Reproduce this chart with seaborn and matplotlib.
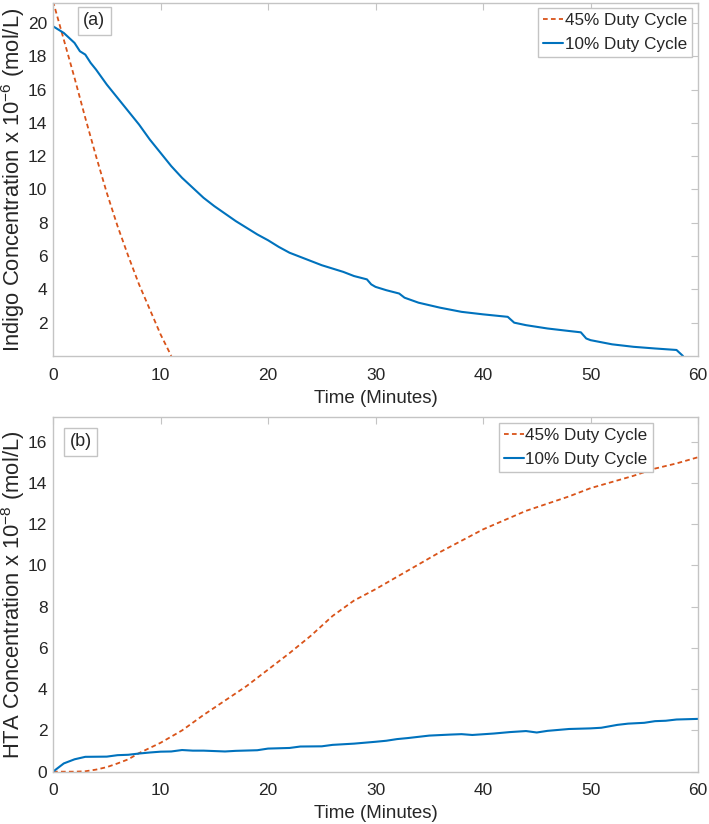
import numpy as np
import pandas as pd
import matplotlib
matplotlib.use('Agg')
import matplotlib.pyplot as plt
import seaborn as sns

# panel (a): indigo concentration (x 1e-6 mol/L)
t_a45 = [0, 1, 2, 3, 4, 5, 6, 7, 8, 9, 10, 11]
c_a45 = [21.3, 19.0, 16.7, 14.3, 12.0, 9.8, 7.8, 6.0, 4.3, 2.8, 1.3, 0.0]

t_a10 = [0, 0.5, 1, 1.5, 2, 2.5, 3, 3.5, 4, 5, 6, 7, 8, 9, 10, 11, 12, 13, 14, 15,
         16, 17, 18, 19, 20, 21, 22, 23, 24, 25, 26, 27, 28, 29.2, 29.6, 30, 31,
         32.2, 32.7, 34, 36, 38, 40, 42.3, 42.9, 44, 46, 48, 49.1, 49.6, 50, 52,
         54, 56, 58, 58.6]
c_a10 = [19.8, 19.6, 19.4, 19.1, 18.8, 18.3, 18.1, 17.6, 17.2, 16.3, 15.5, 14.7,
         13.9, 13.0, 12.2, 11.4, 10.7, 10.1, 9.5, 9.0, 8.55, 8.1, 7.7, 7.3, 6.95,
         6.55, 6.2, 5.95, 5.7, 5.45, 5.25, 5.05, 4.8, 4.6, 4.3, 4.15, 3.95, 3.75,
         3.5, 3.2, 2.9, 2.65, 2.5, 2.35, 2.0, 1.85, 1.65, 1.5, 1.42, 1.05, 0.95,
         0.7, 0.55, 0.45, 0.36, 0.0]

# panel (b): HTA concentration (x 1e-8 mol/L)
t_b45 = [0, 2, 3, 4, 5, 6, 7, 8, 10, 12, 14, 16, 18, 20, 22, 24, 26, 28, 30, 32,
         34, 36, 38, 40, 42, 44, 46, 48, 50, 52, 54, 56, 58, 60]
c_b45 = [0, 0, 0.02, 0.1, 0.22, 0.4, 0.6, 0.9, 1.4, 2.0, 2.75, 3.45, 4.15, 4.95,
         5.75, 6.6, 7.55, 8.3, 8.85, 9.45, 10.05, 10.65, 11.2, 11.75, 12.2, 12.65,
         13.0, 13.35, 13.75, 14.05, 14.35, 14.7, 14.95, 15.25]

t_b10 = [0, 1, 2, 3, 5, 6, 7, 8, 9, 10, 11, 12, 13, 14, 16, 17, 19, 20, 22, 23,
         25, 26, 28, 30, 31, 32, 33, 35, 37, 38, 39, 41, 42.5, 44, 45, 46, 48, 50,
         51, 52.5, 53.5, 55, 56, 57, 58, 60]
c_b10 = [0, 0.4, 0.6, 0.72, 0.73, 0.8, 0.82, 0.88, 0.93, 0.97, 0.98, 1.05, 1.02,
         1.02, 0.98, 1.01, 1.04, 1.12, 1.15, 1.22, 1.23, 1.3, 1.36, 1.45, 1.5,
         1.58, 1.63, 1.75, 1.8, 1.82, 1.78, 1.85, 1.92, 1.97, 1.9, 1.98, 2.07, 2.1,
         2.13, 2.27, 2.33, 2.37, 2.45, 2.47, 2.53, 2.56]

labels = ['45% Duty Cycle', '10% Duty Cycle']
orange = '#D95319'
blue = '#0072BD'
grey = '#C4C4C4'
ink = '#262626'

sns.set_style('white')
plt.rcParams['font.family'] = ['Liberation Sans', 'DejaVu Sans']
plt.rcParams['mathtext.fontset'] = 'custom'
plt.rcParams['mathtext.rm'] = 'Liberation Sans'
plt.rcParams['mathtext.it'] = 'Liberation Sans'

fig = plt.figure(figsize=(7.09, 8.24), dpi=100)
ax1 = fig.add_axes([0.0748, 0.5680, 0.9097, 0.4284])
ax2 = fig.add_axes([0.0748, 0.0635, 0.9097, 0.4304])


def draw(ax, t45, c45, t10, c10, label_y, leg_anchor, tag, tag_xy):
    sns.lineplot(x=t45, y=c45, ax=ax, color=orange, lw=1.3, label=labels[0])
    sns.lineplot(x=t10, y=c10, ax=ax, color=blue, lw=1.5, label=labels[1])
    ax.lines[0].set_dashes([2.6, 1.8])
    ax.set_xlim(0, 60)
    ax.set_xticks(range(0, 61, 10))
    for s in ax.spines.values():
        s.set_color(grey)
        s.set_linewidth(1.0)
    ax.tick_params(direction='in', length=5, width=0.8, color=grey,
                   top=True, right=True, labelsize=12.5, labelcolor=ink)
    ax.tick_params(axis='x', pad=8.5)
    ax.tick_params(axis='y', pad=4)
    ax.set_xlabel('Time (Minutes)', fontsize=13.5, color=ink, labelpad=5)
    ax.yaxis.set_label_coords(-0.040, label_y)
    leg = ax.legend(loc='upper right', bbox_to_anchor=leg_anchor, borderaxespad=0,
                    fontsize=12.3, handlelength=1.17, handletextpad=0.1,
                    borderpad=0.3, labelspacing=0.5, fancybox=False, framealpha=1)
    leg.get_frame().set_edgecolor(grey)
    ax.text(tag_xy[0], tag_xy[1], tag, transform=ax.transAxes, fontsize=13,
            ha='center', va='center', color=ink,
            bbox=dict(boxstyle='square,pad=0.3', fc='white', ec=grey))


draw(ax1, t_a45, c_a45, t_a10, c_a10, 0.4266, (0.991, 0.986), '(a)', (0.0636, 0.949))
ax1.set_ylim(0, 21.2)
ax1.set_yticks(range(2, 21, 2))
ax1.set_ylabel(r'Indigo Concentration x 10$^{-6}$ (mol/L)', fontsize=15.8, color=ink)

draw(ax2, t_b45, c_b45, t_b10, c_b10, 0.473, (0.930, 0.983), '(b)', (0.0426, 0.930))
ax2.set_ylim(0, 17.2)
ax2.set_yticks(range(0, 17, 2))
ax2.set_ylabel(r'HTA Concentration x 10$^{-8}$ (mol/L)', fontsize=15.8, color=ink)

fig.savefig('out.png', dpi=100)
